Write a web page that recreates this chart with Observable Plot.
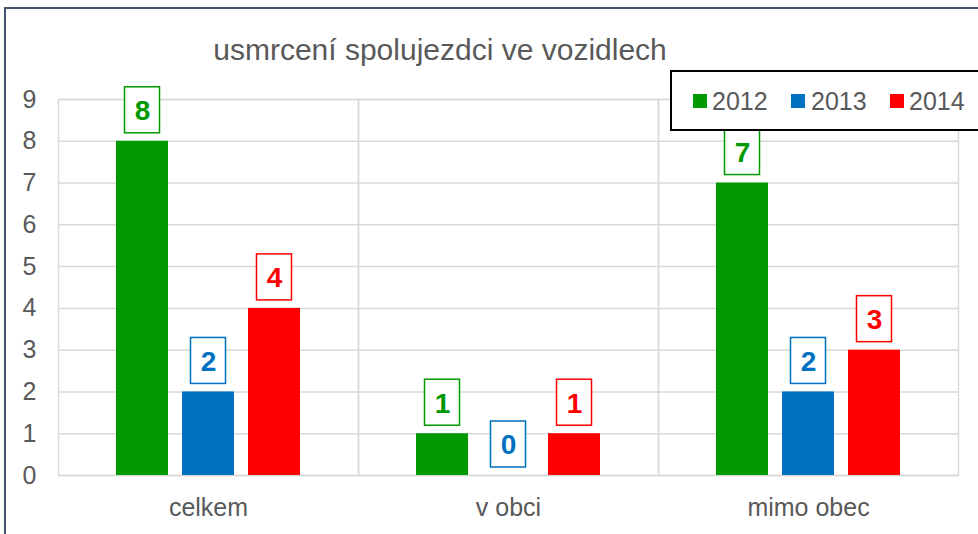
<!DOCTYPE html>
<html>
<head>
<meta charset="utf-8">
<script src="https://cdn.jsdelivr.net/npm/d3@7"></script>
<script src="https://cdn.jsdelivr.net/npm/@observablehq/plot@0.6"></script>
<style>
  html, body { margin: 0; padding: 0; background: #fff; }
  body { font-family: "Liberation Sans", Arial, sans-serif; }
  #wrap { position: relative; width: 978px; height: 534px; overflow: hidden; }
  #outer { position: absolute; left: 4px; top: 7px; width: 1100px; height: 700px;
           border-left: 2px solid #44546a; border-top: 2px solid #44546a; box-sizing: border-box; }
  #title { position: absolute; left: 0; width: 880px; top: 32px; text-align: center;
           font-size: 30px; color: #595959; line-height: 36px; }
  #chart { position: absolute; left: 0; top: 0; }
  #legend { position: absolute; left: 670px; top: 70px; width: 340px; height: 61px;
            border: 2px solid #000; background: #fff; box-sizing: border-box; }
  .sw { position: absolute; width: 14px; height: 14px; top: 22px; }
  .lt { position: absolute; top: 14px; font-size: 25px; line-height: 30px; color: #595959; }
</style>
</head>
<body>
<div id="wrap">
  <div id="outer"></div>
  <div id="chart"></div>
  <div id="title">usmrcení spolujezdci ve vozidlech</div>
  <div id="legend"></div>
</div>
<script>
const categories = ["celkem", "v obci", "mimo obec"];
const years = ["2012", "2013", "2014"];
const values2012 = [8, 1, 7];
const values2013 = [2, 0, 2];
const values2014 = [4, 1, 3];
const yTicks = [0, 1, 2, 3, 4, 5, 6, 7, 8, 9];
const colors = ["#009900", "#0070c0", "#ff0000"];

const series = [values2012, values2013, values2014];
const data = [];
categories.forEach((c, i) => {
  years.forEach((y, j) => data.push({category: c, year: y, value: series[j][i]}));
});

const chart = Plot.plot({
  width: 978,
  height: 534,
  marginLeft: 57,
  marginRight: 19,
  marginTop: 99,
  marginBottom: 59,
  style: {fontFamily: "'Liberation Sans', Arial, sans-serif", fontSize: "25px", color: "#595959", background: "transparent"},
  fx: {domain: categories, paddingInner: 0, paddingOuter: 0, label: null, axis: null},
  x: {domain: years, paddingInner: 0.218, paddingOuter: 0.87, axis: null},
  y: {domain: [0, 9], axis: null},
  color: {domain: years, range: colors},
  marks: [
    Plot.gridY(yTicks, {stroke: "#d9d9d9", strokeOpacity: 1, strokeWidth: 1.5}),
    Plot.frame({stroke: "#d9d9d9", strokeWidth: 1.5}),
    Plot.axisY(yTicks, {tickSize: 0, tickPadding: 22, fontSize: 25, label: null, tickFormat: d => String(d)}),
    Plot.axisFx({anchor: "bottom", tickSize: 0, tickPadding: 23, fontSize: 25, label: null}),
    Plot.barY(data, {fx: "category", x: "year", y: "value", fill: "year"}),
    Plot.barY(data, {fx: "category", x: "year", y1: "value", y2: "value", fill: "white", stroke: "year", strokeWidth: 1.5,
      insetTop: -54, insetBottom: 8, insetLeft: 8.5, insetRight: 8.5}),
    Plot.text(data, {fx: "category", x: "year", y: "value", text: d => String(d.value), fill: "year",
      dy: -30, fontSize: 28, fontWeight: "bold"})
  ]
});
document.getElementById("chart").appendChild(chart);

const legend = document.getElementById("legend");
const swX = [21, 119, 218];
const txX = [40, 139, 237];
years.forEach((y, i) => {
  const s = document.createElement("div");
  s.className = "sw"; s.style.left = swX[i] + "px"; s.style.background = colors[i];
  legend.appendChild(s);
  const t = document.createElement("div");
  t.className = "lt"; t.style.left = txX[i] + "px"; t.textContent = y;
  legend.appendChild(t);
});
</script>
</body>
</html>
